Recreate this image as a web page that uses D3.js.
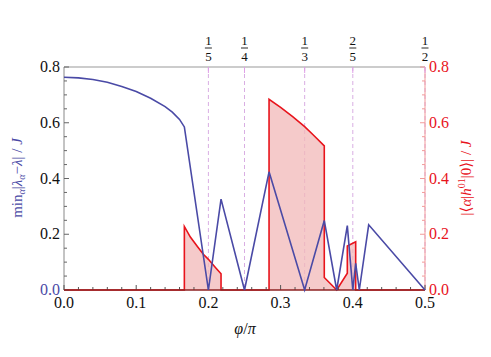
<!DOCTYPE html>
<html><head><meta charset="utf-8">
<script src="https://cdn.jsdelivr.net/npm/d3@7"></script>
<style>body{margin:0;background:#fff}svg{display:block}</style>
</head><body>
<svg id="c" width="491" height="357" style="font-family:'Liberation Serif','Times New Roman',Times,'DejaVu Serif',serif"></svg>
<script>
// data
const phiBlue = [0,0.02,0.04,0.06,0.08,0.10,0.12,0.14,0.15,0.16,0.1667,0.2,0.2175,0.25,0.284,0.3333,0.3605,0.3777,0.3924,0.4,0.404,0.409,0.422,0.5];
const valBlue = [0.763,0.761,0.755,0.745,0.730,0.712,0.688,0.658,0.638,0.612,0.585,0,0.326,0,0.424,0,0.249,0,0.231,0,0.096,0,0.234,0];
const phiRed = [0,0.1667,0.1667,0.175,0.185,0.193,0.2,0.21,0.2175,0.2175,0.284,0.284,0.30,0.3167,0.3333,0.345,0.3605,0.3605,0.3777,0.3924,0.3924,0.404,0.404,0.5];
const valRed = [0,0,0.228,0.19,0.155,0.128,0.11,0.08,0.058,0,0,0.684,0.655,0.622,0.586,0.557,0.517,0.045,0,0.06,0.158,0.173,0,0];
const fracPos = [1/5,1/4,1/3,2/5,1/2];
const fracNum = ["1","1","1","2","1"];
const fracDen = ["5","4","3","5","2"];
const xTicks = [0,0.1,0.2,0.3,0.4,0.5];
const yTicks = [0,0.2,0.4,0.6,0.8];

const FONT = "'Liberation Serif','Times New Roman',Times,'DejaVu Serif',serif";
const svg = d3.select("#c");
const x = d3.scaleLinear().domain([0,0.5]).range([64,425]);
const y = d3.scaleLinear().domain([0,0.8]).range([290,67]);
const blue = "#4a4aa6", red = "#e8141c";

// dashed fraction lines
svg.append("g").selectAll("line").data(fracPos).join("line")
  .attr("x1",d=>x(d)).attr("x2",d=>x(d)).attr("y1",y(0.8)).attr("y2",y(0))
  .attr("stroke","#d9aee3").attr("stroke-width",1).attr("stroke-dasharray","4,3");

const blueData = phiBlue.map((p,i)=>[p,valBlue[i]]);
const redData = phiRed.map((p,i)=>[p,valRed[i]]);

svg.append("path").datum(redData)
  .attr("d", d3.area().x(d=>x(d[0])).y0(y(0)).y1(d=>y(d[1])))
  .attr("fill","#f2b8b8").attr("fill-opacity",0.75);
svg.append("path").datum(redData)
  .attr("d", d3.line().x(d=>x(d[0])).y(d=>y(d[1])))
  .attr("fill","none").attr("stroke",red).attr("stroke-width",1.6);

// frame
svg.append("line").attr("x1",64).attr("x2",425).attr("y1",67).attr("y2",67).attr("stroke","#999");
svg.append("line").attr("x1",64).attr("x2",64).attr("y1",67).attr("y2",290).attr("stroke","#888");
svg.append("line").attr("x1",425).attr("x2",425).attr("y1",67).attr("y2",290).attr("stroke","#f29a9a");

// bottom axis ticks
const xMinor = d3.range(0,0.5001,0.02);
svg.append("g").selectAll("line").data(xMinor).join("line")
  .attr("x1",d=>x(d)).attr("x2",d=>x(d)).attr("y1",290).attr("y2",d=>Math.abs(d*10-Math.round(d*10))<1e-6?285:287)
  .attr("stroke","#555");
// left ticks
const yMinor = d3.range(0,0.8001,0.05);
svg.append("g").selectAll("line").data(yMinor).join("line")
  .attr("y1",d=>y(d)).attr("y2",d=>y(d)).attr("x1",64).attr("x2",d=>Math.abs(d*5-Math.round(d*5))<1e-6?69:67)
  .attr("stroke","#666");
// right ticks
svg.append("g").selectAll("line").data(yMinor).join("line")
  .attr("y1",d=>y(d)).attr("y2",d=>y(d)).attr("x1",425).attr("x2",d=>Math.abs(d*5-Math.round(d*5))<1e-6?420:422)
  .attr("stroke","#f29a9a");
// top fraction ticks
svg.append("g").selectAll("line").data(fracPos).join("line")
  .attr("x1",d=>x(d)).attr("x2",d=>x(d)).attr("y1",67).attr("y2",73)
  .attr("stroke","#e0a0e8");

// baseline (red at zero over axis)
svg.append("line").attr("x1",64).attr("x2",425).attr("y1",290).attr("y2",290).attr("stroke","#8e2222").attr("stroke-width",1.6);

// blue line
svg.append("path").datum(blueData)
  .attr("d", d3.line().x(d=>x(d[0])).y(d=>y(d[1])))
  .attr("fill","none").attr("stroke",blue).attr("stroke-width",1.6).attr("stroke-linejoin","miter");

// tick labels
svg.append("g").selectAll("text").data(xTicks).join("text")
  .attr("font-family",FONT)
  .attr("x",d=>x(d)).attr("y",308).attr("text-anchor","middle").attr("font-size",16).attr("fill","#111")
  .text(d=>d3.format(".1f")(d));
svg.append("g").selectAll("text").data(yTicks).join("text")
  .attr("font-family",FONT)
  .attr("x",60).attr("y",d=>y(d)+5).attr("text-anchor","end").attr("font-size",16)
  .attr("fill",d=>d===0?blue:"#111").text(d=>d3.format(".1f")(d));
svg.append("g").selectAll("text").data(yTicks).join("text")
  .attr("font-family",FONT)
  .attr("x",429).attr("y",d=>y(d)+5).attr("text-anchor","start").attr("font-size",16)
  .attr("fill",red).text(d=>d3.format(".1f")(d));

// fraction labels
const fg = svg.append("g").selectAll("g").data(fracPos).join("g").attr("transform",d=>`translate(${x(d)},0)`);
fg.append("text").attr("font-family",FONT).attr("y",45).attr("text-anchor","middle").attr("font-size",13).attr("fill","#111").text((d,i)=>fracNum[i]);
fg.append("line").attr("x1",-3.5).attr("x2",3.5).attr("y1",48).attr("y2",48).attr("stroke","#111").attr("stroke-width",0.9);
fg.append("text").attr("font-family",FONT).attr("y",61).attr("text-anchor","middle").attr("font-size",13).attr("fill","#111").text((d,i)=>fracDen[i]);

// axis titles
const xt = svg.append("text").attr("font-family",FONT).attr("x",245).attr("y",334).attr("text-anchor","middle").attr("font-size",16).attr("fill","#111");
xt.append("tspan").attr("font-style","italic").text("φ");
xt.append("tspan").text("/");
xt.append("tspan").attr("font-style","italic").text("π");

const lt = svg.append("text").attr("font-family",FONT).attr("transform","translate(22,178) rotate(-90)").attr("text-anchor","middle").attr("font-size",15).attr("fill",blue);
lt.append("tspan").text("min");
lt.append("tspan").attr("font-size",10).attr("dy",3).attr("font-style","italic").text("α");
lt.append("tspan").attr("dy",-3).text("|");
lt.append("tspan").attr("font-style","italic").text("λ");
lt.append("tspan").attr("font-size",10).attr("dy",3).attr("font-style","italic").text("α");
lt.append("tspan").attr("dy",-3).text("−");
lt.append("tspan").attr("font-style","italic").text("λ");
lt.append("tspan").text("| / ");
lt.append("tspan").attr("font-style","italic").text("J");

const rt = svg.append("text").attr("font-family",FONT).attr("transform","translate(471,178) rotate(-90)").attr("text-anchor","middle").attr("font-size",15).attr("fill",red);
rt.append("tspan").text("|⟨");
rt.append("tspan").attr("font-style","italic").text("α");
rt.append("tspan").text("|");
rt.append("tspan").attr("font-style","italic").text("h");
rt.append("tspan").attr("font-size",10).attr("dy",-6).text("01");
rt.append("tspan").attr("dy",6).text("|0⟩| / ");
rt.append("tspan").attr("font-style","italic").text("J");
</script>
</body></html>
